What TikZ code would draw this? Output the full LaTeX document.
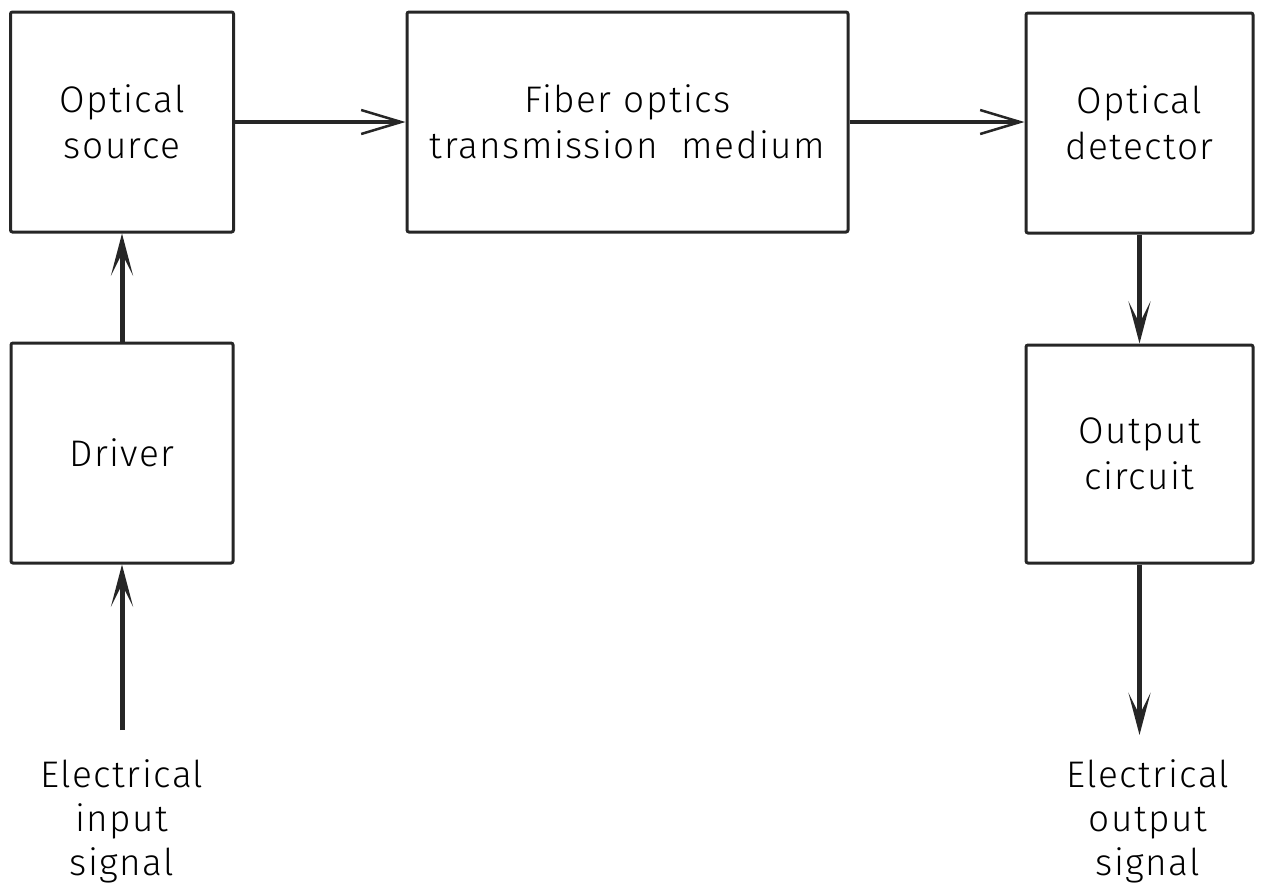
\documentclass[tikz,border=0pt]{standalone}
\usepackage{fontspec}
\setmainfont{Fira Sans Light}[LetterSpace=4]
\usetikzlibrary{arrows.meta}
\definecolor{ink}{gray}{0.15}
\begin{document}
\begin{tikzpicture}[x=1pt,y=-1pt,
  block/.style={draw=ink, line width=3pt, rounded corners=2pt, inner sep=0pt,
    align=center, font=\fontsize{37}{46}\selectfont},
  flow/.style={draw=ink, line width=5pt,
    -{Stealth[length=42pt,width=22pt,inset=22pt]}},
  hflow/.style={draw=ink, line width=4pt,
    -{Straight Barb[length=40pt,width=24pt,line width=2.5pt]}},
  caption/.style={inner sep=0pt, align=center, anchor=north,
    font=\fontsize{37}{44}\selectfont}]
  \useasboundingbox (0,0) rectangle (1261,884);

  % top row: source, fibre link, detector
  \node[block, minimum width=223pt, minimum height=220pt] (source) at (122,122)
    {Optical\\source};
  \node[block, minimum width=441pt, minimum height=220pt] (fiber) at (627.5,122)
    {Fiber optics\\transmission\ \ medium};
  \node[block, minimum width=227pt, minimum height=220pt] (detector) at (1139.5,123)
    {Optical\\detector};

  % lower row: driver and output stage
  \node[block, minimum width=222pt, minimum height=220pt] (driver) at (122,453)
    {Driver};
  \node[block, minimum width=227pt, minimum height=218pt] (outc) at (1139.5,454)
    {Output\\circuit};

  % free ends of the electrical signal lines
  \coordinate (inend) at (122,730);
  \coordinate (outend) at (1139.5,735);

  \node[caption] (inlabel) at (122,759) {Electrical\\input\\signal};
  \node[caption] (outlabel) at (1148,759) {Electrical\\output\\signal};

  % connectors
  \draw[hflow] (source.east) -- (fiber.west);
  \draw[hflow] (fiber.east) -- (detector.west |- fiber.east);
  \draw[flow] (driver.north) -- (source.south);
  \draw[flow] (inend) -- (driver.south);
  \draw[flow] (detector.south) -- (outc.north);
  \draw[flow] (outc.south) -- (outend);
\end{tikzpicture}
\end{document}
